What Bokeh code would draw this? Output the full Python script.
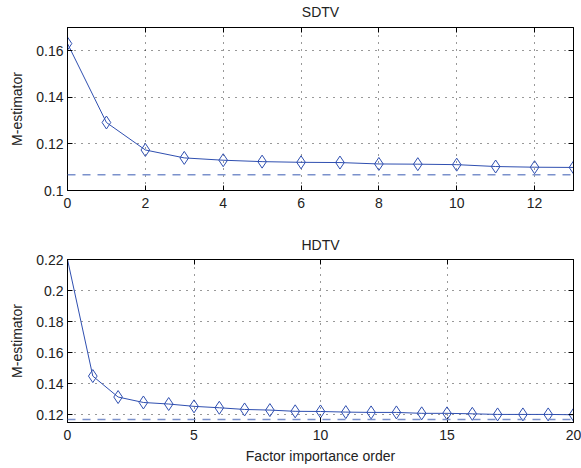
from bokeh.plotting import figure
from bokeh.models import ColumnDataSource, FixedTicker, LinearAxis, Range1d, Span
from bokeh.layouts import column
from bokeh.embed import file_html
from bokeh.resources import INLINE

# ---- data ----
sd_x = list(range(0, 14))
sd_y = [0.1631, 0.1292, 0.1174, 0.1140, 0.1130, 0.1124, 0.1121, 0.1120,
        0.1114, 0.1113, 0.1111, 0.1103, 0.1100, 0.1099]
sd_ref = 0.1068
sd_xticks = [0, 2, 4, 6, 8, 10, 12]
sd_yticks = [0.10, 0.12, 0.14, 0.16]
sd_ylabels = ["0.1", "0.12", "0.14", "0.16"]

hd_x = list(range(0, 21))
hd_y = [0.2200, 0.1449, 0.1314, 0.1279, 0.1269, 0.1254, 0.1245, 0.1234,
        0.1230, 0.1222, 0.1221, 0.1217, 0.1215, 0.1215, 0.1209, 0.1209,
        0.1206, 0.1202, 0.1202, 0.1202, 0.1200]
hd_ref = 0.1170
hd_xticks = [0, 5, 10, 15, 20]
hd_yticks = [0.12, 0.14, 0.16, 0.18, 0.20, 0.22]
hd_ylabels = ["0.12", "0.14", "0.16", "0.18", "0.2", "0.22"]

LINE = "#2f4fb0"
DASH = "#7b91cc"
FONT = "Liberation Sans"
TXT = "#222222"


def make(title, xs, ys, ref, xr, yr, xticks, yticks, ylabels, h, bt, bb,
         xlabel=None, marker_from=0, gap=8):
    p = figure(width=581, height=h, output_backend="svg", toolbar_location=None,
               x_range=Range1d(*xr), y_range=Range1d(*yr),
               min_border_left=67, min_border_right=8,
               min_border_top=bt, min_border_bottom=bb)
    p.title.visible = False
    p.outline_line_color = "black"
    p.outline_line_width = 1
    p.outline_line_alpha = 1
    p.background_fill_color = "white"
    p.border_fill_color = "white"

    for ax in (p.xaxis[0], p.yaxis[0]):
        ax.major_tick_in = 5
        ax.major_tick_out = 0
        ax.minor_tick_in = 0
        ax.minor_tick_out = 0
        ax.axis_line_color = "black"
        ax.major_tick_line_color = "black"
        ax.major_label_text_font = FONT
        ax.major_label_text_font_size = "14px"
        ax.major_label_text_color = TXT
        ax.axis_label_text_font = FONT
        ax.axis_label_text_font_size = "14px"
        ax.axis_label_text_font_style = "normal"
        ax.axis_label_text_color = TXT
    p.xaxis[0].ticker = FixedTicker(ticks=xticks)
    p.yaxis[0].ticker = FixedTicker(ticks=yticks)
    p.yaxis[0].major_label_overrides = {t: l for t, l in zip(yticks, ylabels)}
    p.yaxis[0].major_label_standoff = 4
    p.xaxis[0].major_label_standoff = 7
    p.yaxis[0].axis_label = "M-estimator"
    p.yaxis[0].axis_label_standoff = 8
    if xlabel:
        p.xaxis[0].axis_label = xlabel
        p.xaxis[0].axis_label_standoff = 5

    # top axis: inward ticks, no tick labels, carries the panel title
    top = LinearAxis(ticker=FixedTicker(ticks=xticks), major_tick_in=5, major_tick_out=0,
                     minor_tick_in=0, minor_tick_out=0,
                     major_label_text_font_size="1px", major_label_standoff=0,
                     major_label_text_color=None,
                     axis_line_color="black", major_tick_line_color="black",
                     axis_label=title, axis_label_standoff=gap,
                     axis_label_text_font=FONT, axis_label_text_font_size="14px",
                     axis_label_text_font_style="normal", axis_label_text_color=TXT)
    p.add_layout(top, "above")
    # right axis: inward ticks only
    right = LinearAxis(ticker=FixedTicker(ticks=yticks), major_tick_in=5, major_tick_out=0,
                       minor_tick_in=0, minor_tick_out=0,
                       major_label_text_font_size="1px", major_label_standoff=0,
                       major_label_text_color=None,
                       axis_line_color="black", major_tick_line_color="black")
    p.add_layout(right, "right")

    p.xgrid.grid_line_color = "black"
    p.ygrid.grid_line_color = "black"
    p.xgrid.grid_line_dash = "1 6"
    p.ygrid.grid_line_dash = "1 6"
    p.xgrid.grid_line_alpha = 0.8
    p.ygrid.grid_line_alpha = 0.8
    p.xgrid.ticker = FixedTicker(ticks=xticks)
    p.ygrid.ticker = FixedTicker(ticks=yticks)

    p.add_layout(Span(location=ref, dimension="width", line_color=DASH,
                      line_dash="8 7", line_width=1.5))
    src = ColumnDataSource(dict(x=xs, y=ys))
    msrc = ColumnDataSource(dict(x=xs[marker_from:], y=ys[marker_from:]))
    p.line("x", "y", source=src, line_color=LINE, line_width=1)
    p.scatter("x", "y", source=msrc, marker="diamond", size=13,
              fill_color=None, line_color=LINE, line_width=1)
    return p


p1 = make("SDTV", sd_x, sd_y, sd_ref, (0, 13), (0.10, 0.17), sd_xticks, sd_yticks,
          sd_ylabels, 225, 27, 35, gap=8)
p2 = make("HDTV", hd_x, hd_y, hd_ref, (0, 20), (0.115, 0.22), hd_xticks, hd_yticks,
          hd_ylabels, 243, 34, 46, xlabel="Factor importance order", marker_from=1,
          gap=7)

layout = column(p1, p2, spacing=0)
open("out.html", "w").write(file_html(layout, INLINE))
